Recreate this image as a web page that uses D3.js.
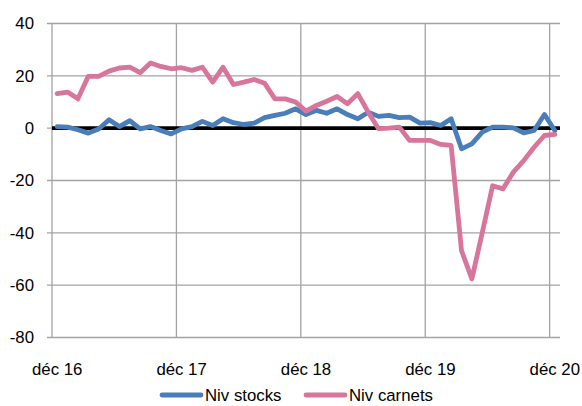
<!DOCTYPE html>
<html>
<head>
<meta charset="utf-8">
<script src="https://cdn.jsdelivr.net/npm/d3@7"></script>
<style>
  body { margin: 0; background: #fff; }
  text { font-family: "Liberation Sans", Arial, sans-serif; fill: #000; }
</style>
</head>
<body>
<svg id="chart" width="582" height="406"></svg>
<script>
// months from déc 16 to déc 20
const months = d3.timeMonth.range(new Date(2016, 11, 1), new Date(2021, 0, 1));
const tickLabels = ["déc 16", "déc 17", "déc 18", "déc 19", "déc 20"];
const yTicks = [-80, -60, -40, -20, 0, 20, 40];

const stocks = [0.6, 0.4, -0.6, -1.9, -0.3, 3.2, 0.6, 2.9, -0.3, 0.6, -0.9, -2.2,
  -0.3, 0.6, 2.6, 1.0, 3.6, 2.1, 1.4, 1.9, 4.0, 4.9, 5.7, 7.4,
  5.2, 6.8, 5.7, 7.4, 5.2, 3.6, 6.1, 4.5, 4.9, 4.0, 4.2, 1.9,
  2.1, 1.0, 3.6, -7.9, -6.0, -1.5, 0.4, 0.4, 0.1, -1.8, -0.9, 5.2, -0.9];
const carnets = [13.2, 13.8, 11.2, 19.8, 19.8, 21.8, 23.0, 23.3, 21.2, 24.9, 23.6, 22.7,
  23.1, 22.1, 23.3, 17.6, 23.3, 16.7, 17.6, 18.6, 17.2, 11.2, 11.2, 10.0,
  6.5, 8.7, 10.3, 12.1, 9.3, 13.2, 6.1, -0.2, 0.0, 0.4, -4.7, -4.7,
  -4.7, -6.2, -6.6, -46.8, -57.6, -40.0, -22.0, -23.2, -16.8, -12.4, -7.3, -2.8, -2.4];

const series = [
  {name: "Niv stocks", values: stocks, color: "#4a7ebb"},
  {name: "Niv carnets", values: carnets, color: "#d8759b"}
];

const svg = d3.select("#chart");
const plot = {left: 52, right: 560, top: 23.5, bottom: 337.5};
const fontSize = "16.8px";

const x = d3.scaleBand().domain(months).range([plot.left, plot.right]);
const y = d3.scaleLinear().domain([-80, 40]).range([plot.bottom, plot.top]);
const cx = d => x(d) + x.bandwidth() / 2;

// dec months carry the gridlines / labels
const decs = months.filter(m => m.getMonth() === 11);

// horizontal gridlines
svg.append("g")
  .selectAll("line")
  .data(yTicks)
  .join("line")
    .attr("x1", plot.left - 5)
    .attr("x2", plot.right)
    .attr("y1", d => y(d))
    .attr("y2", d => y(d))
    .attr("stroke", "#a3a3a3")
    .attr("stroke-width", 1.3);

// vertical gridlines
svg.append("g")
  .selectAll("line")
  .data(decs)
  .join("line")
    .attr("x1", d => x(d))
    .attr("x2", d => x(d))
    .attr("y1", plot.top)
    .attr("y2", plot.bottom)
    .attr("stroke", "#a3a3a3")
    .attr("stroke-width", 1.3);

// y labels
svg.append("g")
  .selectAll("text")
  .data(yTicks)
  .join("text")
    .attr("x", 34)
    .attr("y", d => y(d))
    .attr("dy", "0.35em")
    .attr("text-anchor", "end")
    .style("font-size", fontSize)
    .text(d => d);

// x labels
svg.append("g")
  .selectAll("text")
  .data(decs)
  .join("text")
    .attr("x", d => cx(d))
    .attr("y", 375)
    .attr("text-anchor", "middle")
    .style("font-size", fontSize)
    .text((d, i) => tickLabels[i]);

// zero line
svg.append("line")
  .attr("x1", plot.left)
  .attr("x2", plot.right)
  .attr("y1", y(0))
  .attr("y2", y(0))
  .attr("stroke", "#000")
  .attr("stroke-width", 3.8);

const line = d3.line()
  .x((d, i) => cx(months[i]))
  .y(d => y(d));

svg.append("g")
  .selectAll("path")
  .data(series)
  .join("path")
    .attr("d", d => line(d.values))
    .attr("fill", "none")
    .attr("stroke", d => d.color)
    .attr("stroke-width", 4.8)
    .attr("stroke-linejoin", "round")
    .attr("stroke-linecap", "round");

// legend
const legendPos = [162, 306];
const legend = svg.append("g")
  .selectAll("g")
  .data(series)
  .join("g")
    .attr("transform", (d, i) => `translate(${legendPos[i]},395)`);
legend.append("line")
  .attr("x1", 0).attr("x2", 39)
  .attr("stroke", d => d.color)
  .attr("stroke-width", 4.8)
  .attr("stroke-linecap", "round");
legend.append("text")
  .attr("x", 43)
  .attr("dy", "0.35em")
  .style("font-size", fontSize)
  .text(d => d.name);
</script>
</body>
</html>
